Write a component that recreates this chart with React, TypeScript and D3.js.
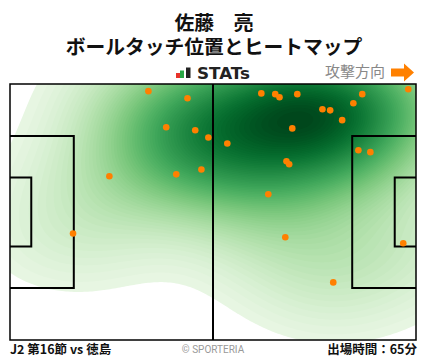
import React from 'react';
import * as d3 from 'd3';

// Ball touch positions in pitch metres (105 x 68), attacking left -> right
const touchX = [35.8, 45.9, 40.4, 47.9, 51.3, 25.7, 43.0, 49.5, 65.0, 68.6, 69.7, 74.3, 80.8, 82.8, 91.1, 88.8, 85.9, 103.0, 73.0, 56.2, 71.5, 72.2, 90.1, 93.2, 66.8, 16.3, 71.2, 83.6, 101.7];
const touchY = [1.9, 3.8, 11.5, 12.3, 14.2, 24.5, 24.0, 22.7, 2.5, 2.7, 3.5, 2.7, 6.7, 7.0, 2.7, 5.1, 9.6, 1.4, 11.8, 15.8, 20.5, 21.3, 17.6, 18.1, 29.3, 39.7, 40.7, 52.7, 42.3];

const titleLines = ['佐藤　亮', 'ボールタッチ位置とヒートマップ'];
const directionLabel = '攻撃方向';
const brandLabel = 'STATs';
const matchLabel = 'J2 第16節 vs 徳島';
const creditLabel = '© SPORTERIA';
const minutesLabel = '出場時間：65分';

const PITCH_LENGTH = 105;
const PITCH_WIDTH = 68;

export default function App() {
  const W = 428, H = 359;
  const x0 = 10, x1 = 416, y0 = 84, y1 = 340;
  const x = d3.scaleLinear().domain([0, PITCH_LENGTH]).range([x0, x1]);
  const y = d3.scaleLinear().domain([0, PITCH_WIDTH]).range([y0, y1]);
  const pts = touchX.map((v, i) => ({ x: v, y: touchY[i] }));

  // gaussian kernel density on a grid (pixels)
  const cell = 2;
  const gw = Math.ceil((x1 - x0) / cell) + 1;
  const gh = Math.ceil((y1 - y0) / cell) + 1;
  const sx = 62, sy = 42;
  const values = new Float64Array(gw * gh);
  const px = pts.map(p => x(p.x) - x0);
  const py = pts.map(p => y(p.y) - y0);
  for (let j = 0; j < gh; j++) {
    for (let i = 0; i < gw; i++) {
      const gx = i * cell, gy = j * cell;
      let s = 0;
      for (let k = 0; k < px.length; k++) {
        const dx = (gx - px[k]) / sx, dy = (gy - py[k]) / sy;
        s += Math.exp(-0.5 * (dx * dx + dy * dy));
      }
      values[j * gw + i] = s;
    }
  }
  const max = d3.max(values) as number;
  const n = 70;
  const lo = max * 0.035;
  const thresholds = d3.range(n).map(i => lo + (max - lo) * i / n);
  const contours = d3.contours().size([gw, gh]).thresholds(thresholds)(Array.from(values));
  const colorOf = (v: number) => d3.interpolateGreens(0.04 + 0.96 * Math.pow(v / max, 0.8));
  const gp = d3.geoPath(d3.geoTransform({
    point: function (this: any, a: number, b: number) { this.stream.point(a * cell - cell / 2, b * cell - cell / 2); }
  }));

  const penD = 16.5, penW = 40.32, gaD = 5.5, gaW = 18.32;
  const cy = PITCH_WIDTH / 2;
  const lineColor = '#000';

  return (
    <svg width={W} height={H} style={{ position: 'absolute', left: 0, top: 0, background: '#fff' }}>
      <defs>
        <clipPath id="pitchClip">
          <rect x={x0} y={y0} width={x1 - x0} height={y1 - y0} />
        </clipPath>
      </defs>
      {titleLines.map((t, i) => (
        <text key={i} x={214} y={29.5 + i * 24.5} textAnchor="middle" fontFamily="'Noto Sans CJK JP'" fontWeight="bold" fontSize={19.8} fill="#111">{t}</text>
      ))}
      {/* brand */}
      <rect x={176} y={73} width={4} height={5} fill="#e8322a" />
      <rect x={180} y={70.5} width={4} height={7.5} fill="#28a745" />
      <rect x={186} y={67.5} width={4.5} height={10.5} fill="#222" />
      <text x={197} y={78.5} fontFamily="'DejaVu Sans'" fontWeight="bold" fontSize={15} fill="#222" textLength={53} lengthAdjust="spacingAndGlyphs">{brandLabel}</text>
      {/* direction */}
      <text x={385} y={77} textAnchor="end" fontFamily="'Noto Sans CJK JP'" fontSize={15} fill="#888">{directionLabel}</text>
      <polygon points="391,68.5 404,68.5 404,63.5 414,72.5 404,81.5 404,76.5 391,76.5" fill="#ff8000" />

      {/* heatmap */}
      <g clipPath="url(#pitchClip)">
        <g transform={`translate(${x0},${y0})`}>
          {contours.map((c, i) => (
            <path key={i} d={gp(c as any) || ''} fill={colorOf(c.value)} stroke="none" />
          ))}
        </g>
      </g>

      {/* pitch lines */}
      <g fill="none" stroke={lineColor}>
        <rect x={x0} y={y0} width={x1 - x0} height={y1 - y0} strokeWidth={1.5} />
        <line x1={x(PITCH_LENGTH / 2)} x2={x(PITCH_LENGTH / 2)} y1={y0} y2={y1} strokeWidth={2} />
        <path d={`M${x(0)},${y(cy - penW / 2)}H${x(penD)}V${y(cy + penW / 2)}H${x(0)}`} strokeWidth={2} />
        <path d={`M${x(0)},${y(cy - gaW / 2)}H${x(gaD)}V${y(cy + gaW / 2)}H${x(0)}`} strokeWidth={2} />
        <path d={`M${x(PITCH_LENGTH)},${y(cy - penW / 2)}H${x(PITCH_LENGTH - penD)}V${y(cy + penW / 2)}H${x(PITCH_LENGTH)}`} strokeWidth={2} />
        <path d={`M${x(PITCH_LENGTH)},${y(cy - gaW / 2)}H${x(PITCH_LENGTH - gaD)}V${y(cy + gaW / 2)}H${x(PITCH_LENGTH)}`} strokeWidth={2} />
      </g>

      {/* touches */}
      {pts.map((p, i) => (
        <circle key={i} cx={x(p.x)} cy={y(p.y)} r={3.3} fill="#ff8000" />
      ))}

      {/* footer */}
      <text x={10} y={354} fontFamily="'Noto Sans CJK JP'" fontWeight="bold" fontSize={12.5} fill="#111">{matchLabel}</text>
      <text x={213} y={353} textAnchor="middle" fontFamily="Roboto" fontSize={10} fill="#999">{creditLabel}</text>
      <text x={417} y={354} textAnchor="end" fontFamily="'Noto Sans CJK JP'" fontWeight="bold" fontSize={12.5} fill="#111">{minutesLabel}</text>
    </svg>
  );
}
